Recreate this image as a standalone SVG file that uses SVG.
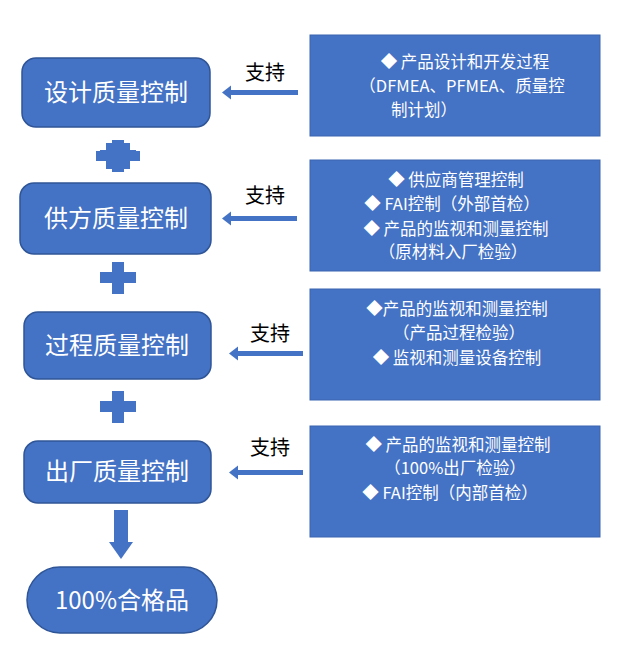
<svg xmlns="http://www.w3.org/2000/svg" width="620" height="656" viewBox="0 0 620 656">
<style>
.n{fill:#4472C4;stroke:#2F5597;stroke-width:1.5}
.r{fill:#4472C4;stroke:#3A64B0;stroke-width:1}
.t{font-family:"Noto Sans CJK SC","Liberation Sans",sans-serif;fill:#fff}
.m{font-size:24px;text-anchor:middle}
.s{font-size:16.5px;text-anchor:middle}
.k{font-family:"Noto Sans CJK SC",sans-serif;font-size:20px;fill:#000;text-anchor:middle}
.c{fill:#4472C4}
</style>
<rect width="620" height="656" fill="#fff"/>
<g id="n1"><rect class="n" x="22" y="58" width="188" height="69" rx="14"/><text class="t m" x="116" y="101">设计质量控制</text></g>
<g id="n2"><rect class="n" x="20" y="183" width="191" height="71" rx="14"/><text class="t m" x="116" y="227">供方质量控制</text></g>
<g id="n3"><rect class="n" x="24" y="312" width="187" height="67" rx="14"/><text class="t m" x="117" y="354">过程质量控制</text></g>
<g id="n4"><rect class="n" x="24" y="441" width="187" height="62" rx="14"/><text class="t m" x="117" y="480">出厂质量控制</text></g>
<g id="n5"><rect class="n" x="27" y="567" width="190" height="66" rx="33"/><text class="t m" x="122" y="609">100%合格品</text></g>
<g id="r1"><rect class="r" x="310" y="35" width="290" height="101"/>
<text class="t s" x="465" y="68">◆   产品设计和开发过程</text>
<text class="t s" x="462" y="92">（DFMEA、PFMEA、质量控</text>
<text class="t s" x="424" y="116">制计划）</text></g>
<g id="r2"><rect class="r" x="310" y="160" width="290" height="111"/>
<text class="t s" x="456" y="186">◆   供应商管理控制</text>
<text class="t s" x="452" y="210">◆   FAI控制（外部首检）</text>
<text class="t s" x="456" y="235">◆   产品的监视和测量控制</text>
<text class="t s" x="453" y="258">（原材料入厂检验）</text></g>
<g id="r3"><rect class="r" x="310" y="289" width="290" height="111"/>
<text class="t s" x="457" y="315">◆产品的监视和测量控制</text>
<text class="t s" x="459" y="339">（产品过程检验）</text>
<text class="t s" x="457" y="364">◆   监视和测量设备控制</text></g>
<g id="r4"><rect class="r" x="310" y="426" width="290" height="111"/>
<text class="t s" x="458" y="451">◆   产品的监视和测量控制</text>
<text class="t s" x="455" y="474">（100%出厂检验）</text>
<text class="t s" x="450" y="499">◆   FAI控制（内部首检）</text></g>
<g id="connectors">
<g class="c">
<path d="M106 143h24v8h10v10h-10v8h-24v-8h-10v-10h10z" transform="translate(0,0)"/>
</g>
<g class="c">
<rect x="112" y="140" width="12" height="32"/><rect x="100" y="150" width="36" height="11"/>
<rect x="112" y="262" width="12" height="32"/><rect x="100" y="272" width="36" height="11"/>
<rect x="112" y="391" width="12" height="32"/><rect x="100" y="401" width="36" height="11"/>
<rect x="114" y="510" width="14" height="34"/><path d="M109 542h24l-12 17z"/>
<rect x="230" y="90" width="68" height="5"/><path d="M222 92.5l9-7v14z"/>
<rect x="230" y="216" width="67" height="5"/><path d="M222 218.5l9-7v14z"/>
<rect x="237" y="351" width="66" height="5"/><path d="M229 353.5l9-7v14z"/>
<rect x="237" y="470" width="66" height="5"/><path d="M229 472.5l9-7v14z"/>
</g>
<text class="k" x="265" y="80">支持</text>
<text class="k" x="265" y="203">支持</text>
<text class="k" x="270" y="341">支持</text>
<text class="k" x="270" y="455">支持</text>
</g>
</svg>
